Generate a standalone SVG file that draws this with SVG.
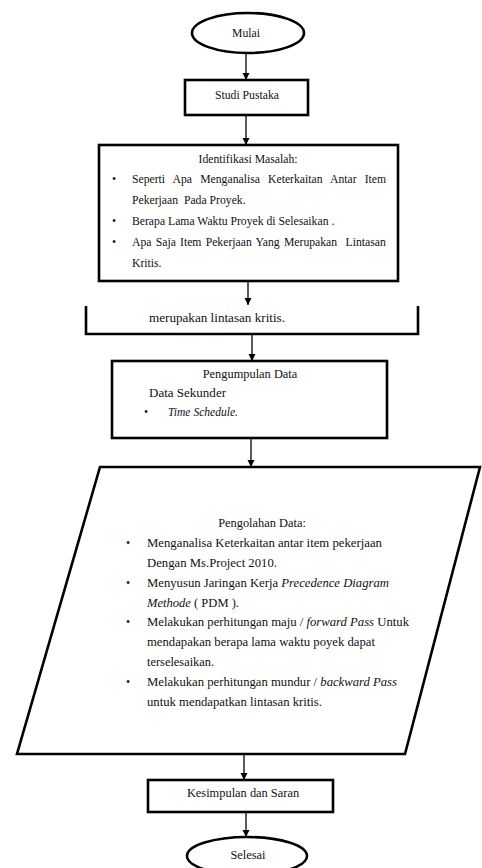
<svg xmlns="http://www.w3.org/2000/svg" width="482" height="868" viewBox="0 0 482 868">
<defs>
<marker id="ah" viewBox="0 0 8 8" refX="8" refY="4" markerWidth="7" markerHeight="8" markerUnits="userSpaceOnUse" orient="auto">
<path d="M0,0 L8,4 L0,8 Z" fill="#000"/>
</marker>
</defs>
<style>
.sh{fill:#fff;stroke:#000;stroke-width:2.6}
.ln{fill:none;stroke:#000;stroke-width:2.6}
.cn{fill:none;stroke:#000;stroke-width:1.3;marker-end:url(#ah)}
text{font-family:"Liberation Serif","Times New Roman",serif;font-size:11.7px;fill:#111}
.cb{font-size:12.4px}
.c{text-anchor:middle}
.i{font-style:italic}
</style>
<rect width="482" height="868" fill="#fff"/>
<g id="mulai">
<ellipse class="sh" cx="248" cy="33" rx="56" ry="20"/>
<text class="c" x="246" y="37">Mulai</text>
</g>
<g id="studi">
<rect class="sh" x="185" y="80" width="123" height="35"/>
<text class="c" x="247" y="99">Studi Pustaka</text>
</g>
<g id="identifikasi">
<rect class="sh" x="99" y="145" width="299" height="136"/>
<text class="c" x="248" y="163">Identifikasi Masalah:</text>
<text x="112" y="183">•</text>
<text x="132" y="183" word-spacing="5.2">Seperti Apa Menganalisa Keterkaitan Antar Item</text>
<text x="132" y="204" xml:space="preserve">Pekerjaan  Pada Proyek.</text>
<text x="112" y="225">•</text>
<text x="132" y="225">Berapa Lama Waktu Proyek di Selesaikan .</text>
<text x="112" y="246">•</text>
<text x="132" y="246" xml:space="preserve" word-spacing="1.3">Apa Saja Item Pekerjaan Yang Merupakan  Lintasan</text>
<text x="132" y="267">Kritis.</text>
</g>
<g id="lanjutan">
<path class="ln" d="M86,306 V334 H418 V306"/>
<text class="cb" x="149" y="322" textLength="136" lengthAdjust="spacingAndGlyphs">merupakan lintasan kritis.</text>
</g>
<g id="pengumpulan">
<rect class="sh" x="112" y="361" width="275" height="77"/>
<text class="cb c" x="250" y="378">Pengumpulan Data</text>
<text class="cb" x="149" y="397" textLength="77" lengthAdjust="spacingAndGlyphs">Data Sekunder</text>
<text x="144" y="416">•</text>
<text class="cb i" x="168" y="416" textLength="70" lengthAdjust="spacingAndGlyphs">Time Schedule.</text>
</g>
<g id="pengolahan">
<polygon class="sh" points="100,467 480,467 405,754 17,754"/>
<text class="cb c" x="262" y="527">Pengolahan Data:</text>
<text x="126" y="547">•</text>
<text class="cb" x="147" y="547" textLength="235" lengthAdjust="spacingAndGlyphs">Menganalisa Keterkaitan antar item pekerjaan</text>
<text class="cb" x="147" y="567" textLength="130" lengthAdjust="spacingAndGlyphs">Dengan Ms.Project 2010.</text>
<text x="126" y="587">•</text>
<text class="cb" x="147" y="587" textLength="242" lengthAdjust="spacingAndGlyphs">Menyusun Jaringan Kerja <tspan class="i">Precedence Diagram</tspan></text>
<text class="cb" x="147" y="607" textLength="92" lengthAdjust="spacingAndGlyphs"><tspan class="i">Methode</tspan> ( PDM ).</text>
<text x="126" y="626">•</text>
<text class="cb" x="147" y="626" textLength="262" lengthAdjust="spacingAndGlyphs">Melakukan perhitungan maju / <tspan class="i">forward Pass</tspan> Untuk</text>
<text class="cb" x="147" y="646" textLength="228" lengthAdjust="spacingAndGlyphs">mendapakan berapa lama waktu poyek dapat</text>
<text class="cb" x="147" y="666">terselesaikan.</text>
<text x="126" y="686">•</text>
<text class="cb" x="147" y="686" textLength="250" lengthAdjust="spacingAndGlyphs">Melakukan perhitungan mundur / <tspan class="i">backward Pass</tspan></text>
<text class="cb" x="147" y="706" textLength="175" lengthAdjust="spacingAndGlyphs">untuk mendapatkan lintasan kritis.</text>
</g>
<g id="kesimpulan">
<rect class="sh" x="148" y="780" width="185" height="32"/>
<text class="cb c" x="243" y="797">Kesimpulan dan Saran</text>
</g>
<g id="selesai">
<ellipse class="sh" cx="247" cy="856" rx="60" ry="19"/>
<text class="cb c" x="248" y="859">Selesai</text>
</g>
<g id="connectors">
<line class="cn" x1="246" y1="53" x2="246" y2="80"/>
<line class="cn" x1="246" y1="115" x2="246" y2="145"/>
<line class="cn" x1="248" y1="281" x2="248" y2="305"/>
<line class="cn" x1="252" y1="334" x2="252" y2="361"/>
<line class="cn" x1="251" y1="438" x2="251" y2="467"/>
<line class="cn" x1="244" y1="754" x2="244" y2="780"/>
<line class="cn" x1="246" y1="812" x2="246" y2="837"/>
</g>
</svg>
